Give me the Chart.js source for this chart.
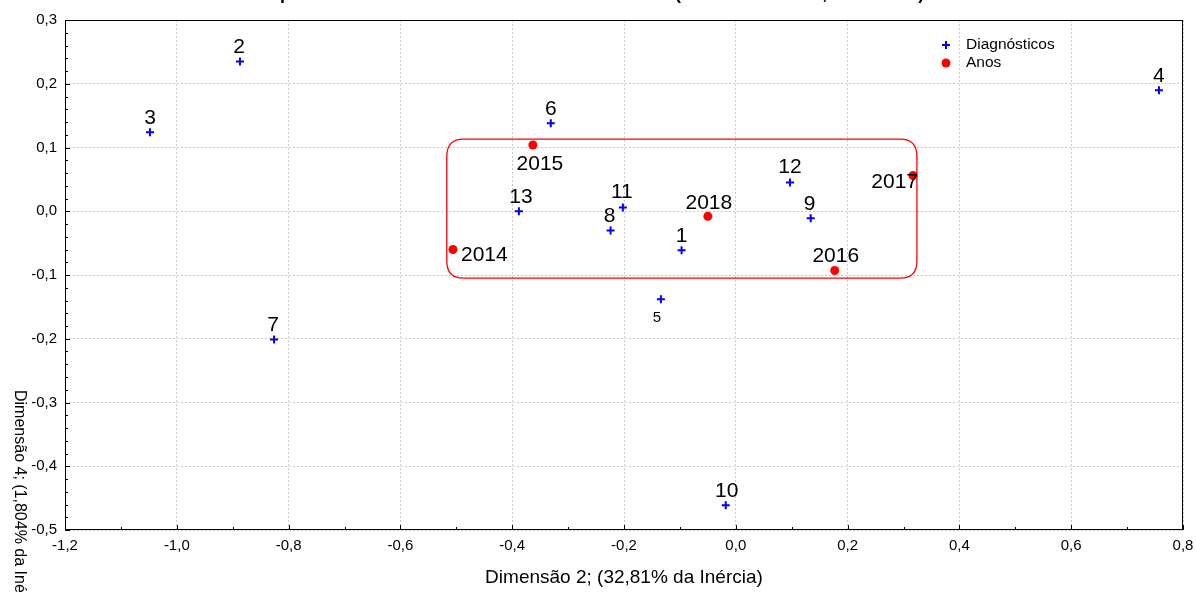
<!DOCTYPE html>
<html>
<head>
<meta charset="utf-8">
<script src="https://cdn.jsdelivr.net/npm/chart.js@4/dist/chart.umd.min.js"></script>
<style>
  html, body { margin: 0; padding: 0; background: #fff; overflow: hidden; }
  #wrap { position: relative; width: 1196px; height: 592px; }
</style>
</head>
<body>
<div id="wrap"><canvas id="c" width="1196" height="592"></canvas></div>
<script>
// Coordinates of the diagnoses (row points)
const diagLabels = ['1', '2', '3', '4', '5', '6', '7', '8', '9', '10', '11', '12', '13'];
const diagX = [-0.097, -0.887, -1.048, 0.757, -0.134, -0.331, -0.826, -0.224, 0.134, -0.018, -0.202, 0.097, -0.388];
const diagY = [-0.061, 0.235, 0.124, 0.190, -0.138, 0.138, -0.201, -0.030, -0.011, -0.461, 0.006, 0.045, 0.000];

// Coordinates of the years (column points)
const yearLabels = ['2014', '2015', '2016', '2017', '2018'];
const yearX = [-0.506, -0.363, 0.177, 0.317, -0.050];
const yearY = [-0.060, 0.104, -0.093, 0.056, -0.008];

// Axis ticks
const xTicks = [-1.2, -1.0, -0.8, -0.6, -0.4, -0.2, 0.0, 0.2, 0.4, 0.6, 0.8];
const yTicks = [-0.5, -0.4, -0.3, -0.2, -0.1, 0.0, 0.1, 0.2, 0.3];

// Grouping outline (data units)
const groupX = [-0.517, 0.324];
const groupY = [-0.105, 0.113];

// Texts
const chartTitle = 'Mapa das coordenadas de Anos e Atendimentos (Dimensões 2 e 4, 2014-2018)';
const xTitle = 'Dimensão 2; (32,81% da Inércia)';
const yTitle = 'Dimensão 4; (1,804% da Inércia)';
const seriesNames = ['Diagnósticos', 'Anos'];

// Label placement relative to each marker: [dx, dy, align, fontSize]
const diagLabelPos = [
  [0, -14, 'center', 21], [-1, -14, 'center', 21], [0, -14, 'center', 21], [0, -14, 'center', 21],
  [-4, 19, 'center', 15], [0, -14, 'center', 21], [-1, -14, 'center', 21], [-1, -14, 'center', 21],
  [-1, -14, 'center', 21], [1, -14, 'center', 21], [-1, -15, 'center', 21], [0, -15, 'center', 21],
  [2, -14, 'center', 21]
];
const yearLabelPos = [
  [8, 6, 'left', 21], [7, 19, 'center', 21], [1, -14, 'center', 21], [5, 7, 'right', 21], [1, -13, 'center', 21]
];

const FONT = '"Liberation Sans", Arial, sans-serif';
const fmt = v => (Math.abs(v) < 1e-9 ? 0 : v).toFixed(1).replace('.', ',');

const decor = {
  id: 'decor',
  beforeDatasetsDraw(chart) {
    const { ctx, scales: { x, y } } = chart;
    // rounded outline around the central group
    const x0 = x.getPixelForValue(groupX[0]), x1 = x.getPixelForValue(groupX[1]);
    const y0 = y.getPixelForValue(groupY[1]), y1 = y.getPixelForValue(groupY[0]);
    const r = 17;
    ctx.save();
    ctx.strokeStyle = '#ff0000';
    ctx.lineWidth = 1.3;
    ctx.beginPath();
    ctx.moveTo(x0 + r, y0);
    ctx.lineTo(x1 - r, y0);
    ctx.quadraticCurveTo(x1, y0, x1, y0 + r);
    ctx.lineTo(x1, y1 - r);
    ctx.quadraticCurveTo(x1, y1, x1 - r, y1);
    ctx.lineTo(x0 + r, y1);
    ctx.quadraticCurveTo(x0, y1, x0, y1 - r);
    ctx.lineTo(x0, y0 + r);
    ctx.quadraticCurveTo(x0, y0, x0 + r, y0);
    ctx.stroke();
    ctx.restore();
  },
  afterDatasetsDraw(chart) {
    const { ctx } = chart;
    ctx.save();
    ctx.fillStyle = '#000';
    ctx.textBaseline = 'middle';
    const put = (meta, labels, pos) => {
      meta.data.forEach((el, i) => {
        const [dx, dy, align, size] = pos[i];
        ctx.font = size + 'px ' + FONT;
        ctx.textAlign = align;
        ctx.fillText(labels[i], el.x + dx, el.y + dy);
      });
    };
    put(chart.getDatasetMeta(0), diagLabels, diagLabelPos);
    put(chart.getDatasetMeta(1), yearLabels, yearLabelPos);
    ctx.restore();
  },
  afterDraw(chart) {
    const { ctx, chartArea: a, scales: { x, y } } = chart;
    ctx.save();
    // frame
    ctx.strokeStyle = '#000';
    ctx.lineWidth = 1;
    ctx.strokeRect(a.left + 0.5, a.top + 0.5, a.right - a.left - 1, a.bottom - a.top - 1);
    // inward tick marks
    ctx.beginPath();
    for (let i = 0; i <= 20; i++) {
      const v = -1.2 + i * 0.1;
      const px = Math.round(x.getPixelForValue(v)) + 0.5;
      const len = i % 2 === 0 ? 5 : 3;
      ctx.moveTo(px, a.bottom);
      ctx.lineTo(px, a.bottom - len);
    }
    for (let i = 0; i <= 40; i++) {
      const v = -0.5 + i * 0.02;
      const py = Math.round(y.getPixelForValue(v)) + 0.5;
      const len = i % 5 === 0 ? 5 : 3;
      ctx.moveTo(a.left, py);
      ctx.lineTo(a.left + len, py);
    }
    ctx.stroke();

    // chart title, cut by the top edge
    ctx.fillStyle = '#000';
    ctx.font = 'bold 18px ' + FONT;
    ctx.textAlign = 'left';
    ctx.textBaseline = 'alphabetic';
    ctx.fillText(chartTitle, 255, -1);

    // axis titles
    ctx.font = '19px ' + FONT;
    ctx.textAlign = 'center';
    ctx.textBaseline = 'middle';
    ctx.fillText(xTitle, (a.left + a.right) / 2, 578);
    ctx.save();
    ctx.translate(19, 390);
    ctx.rotate(Math.PI / 2);
    ctx.font = '16px ' + FONT;
    ctx.textAlign = 'left';
    ctx.fillText(yTitle, 0, 0);
    ctx.restore();

    // legend
    const lx = 946;
    ctx.strokeStyle = '#0000ff';
    ctx.lineWidth = 2;
    ctx.beginPath();
    ctx.moveTo(lx - 4, 45); ctx.lineTo(lx + 4, 45);
    ctx.moveTo(lx, 41); ctx.lineTo(lx, 49);
    ctx.stroke();
    ctx.fillStyle = '#ff0000';
    ctx.beginPath();
    ctx.arc(lx, 63, 4.5, 0, Math.PI * 2);
    ctx.fill();
    ctx.fillStyle = '#000';
    ctx.font = '15.5px ' + FONT;
    ctx.textAlign = 'left';
    ctx.fillText(seriesNames[0], 966, 45);
    ctx.fillText(seriesNames[1], 966, 63);
    ctx.restore();
  }
};

new Chart(document.getElementById('c'), {
  type: 'scatter',
  data: {
    datasets: [
      {
        label: seriesNames[0],
        data: diagX.map((v, i) => ({ x: v, y: diagY[i] })),
        pointStyle: 'cross',
        pointRadius: 4,
        pointHoverRadius: 4,
        borderColor: '#0000ff',
        backgroundColor: '#0000ff',
        borderWidth: 2
      },
      {
        label: seriesNames[1],
        data: yearX.map((v, i) => ({ x: v, y: yearY[i] })),
        pointStyle: 'circle',
        pointRadius: 4.5,
        pointHoverRadius: 4.5,
        borderWidth: 0,
        borderColor: '#ff0000',
        backgroundColor: '#ff0000'
      }
    ]
  },
  options: {
    responsive: false,
    animation: false,
    events: [],
    layout: { padding: { top: 20, right: 13, left: 0, bottom: 0 } },
    plugins: { legend: { display: false }, tooltip: { enabled: false }, title: { display: false } },
    scales: {
      x: {
        type: 'linear',
        min: -1.2, max: 0.8,
        afterBuildTicks: s => { s.ticks = xTicks.map(v => ({ value: v })); },
        afterFit: s => { s.height = 62; s.paddingLeft = 0; s.paddingRight = 0; },
        grid: { color: '#c8c8c8', lineWidth: 1, drawTicks: false },
        border: { display: false, dash: [2, 2] },
        ticks: { color: '#000', font: { size: 15, family: FONT }, padding: 7, maxRotation: 0, autoSkip: false, callback: v => fmt(v) }
      },
      y: {
        type: 'linear',
        min: -0.5, max: 0.3,
        afterBuildTicks: s => { s.ticks = yTicks.map(v => ({ value: v })); },
        afterFit: s => { s.width = 65; s.paddingTop = 0; s.paddingBottom = 0; },
        grid: { color: '#c8c8c8', lineWidth: 1, drawTicks: false },
        border: { display: false, dash: [2, 2] },
        ticks: { color: '#000', font: { size: 15, family: FONT }, padding: 8, autoSkip: false, callback: v => fmt(v) }
      }
    }
  },
  plugins: [decor]
});
</script>
</body>
</html>
